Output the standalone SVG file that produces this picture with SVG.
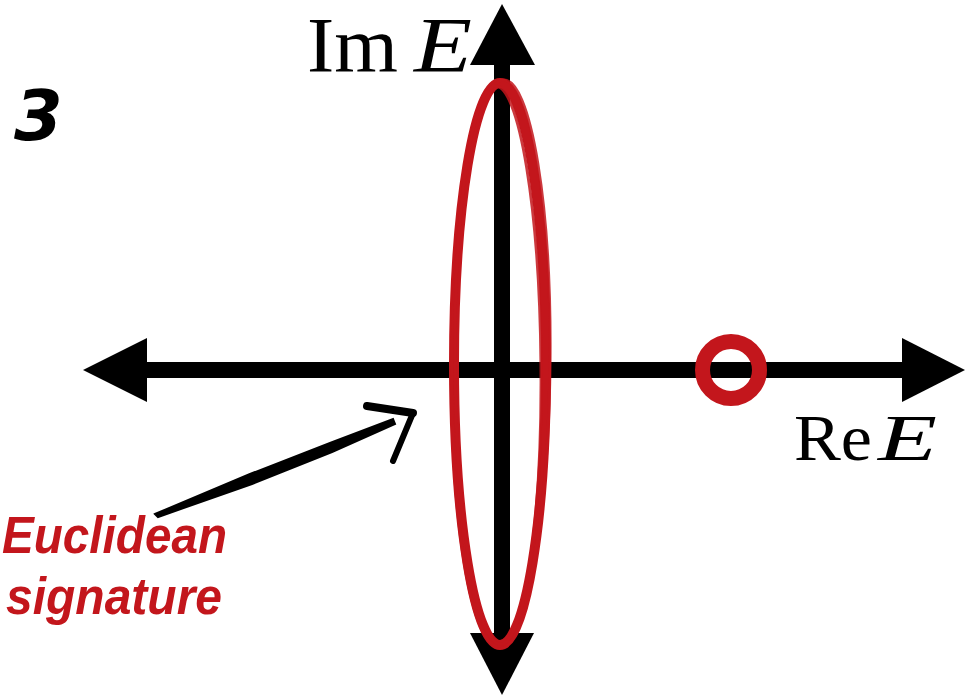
<svg xmlns="http://www.w3.org/2000/svg" width="969" height="697" viewBox="0 0 969 697">
<style>
.axis{stroke:#000;stroke-width:16;fill:none}
.head{fill:#000}
.lab{font-family:"Liberation Serif",serif;fill:#000}
.red{fill:none;stroke:#C3161C}
.note{font-family:"Liberation Sans",sans-serif;font-weight:bold;font-style:italic;fill:#C3161C}
</style>
<rect width="969" height="697" fill="#fff"/>
<g id="connectors">
  <g id="re-axis">
    <line class="axis" x1="140" y1="370" x2="910" y2="370"/>
    <polygon class="head" points="83,370 147,338 147,402"/>
    <polygon class="head" points="965,370 902,338 902,402"/>
  </g>
  <g id="im-axis">
    <line class="axis" x1="502" y1="60" x2="502" y2="640"/>
    <polygon class="head" points="502,4 470,65 535,65"/>
    <polygon class="head" points="502,695 470,633 534,633"/>
  </g>
  <g id="pointer" fill="#000" stroke="#000" stroke-linecap="round">
    <polygon points="155,514 250,474 330,443 393,419 395,424 332,452 252,484 158,517" stroke-width="2"/>
    <path d="M367,406 L413,413" fill="none" stroke-width="8"/>
    <path d="M413,413 L393,461" fill="none" stroke-width="6"/>
  </g>
</g>
<g id="contour">
  <ellipse class="red" cx="500" cy="364" rx="46" ry="281" stroke-width="10"/>
  <ellipse class="red" cx="501" cy="363" rx="49" ry="283" stroke-width="3" transform="rotate(0.6 500 364)" opacity="0.85"/>
  <ellipse class="red" cx="498" cy="365" rx="43" ry="279" stroke-width="3" transform="rotate(-0.5 500 364)" opacity="0.85"/>
</g>
<g id="pole">
  <circle class="red" cx="731" cy="370" r="28.5" stroke-width="15"/>
</g>
<g id="label-im">
  <text class="lab" x="307" y="71" font-size="78" textLength="91" lengthAdjust="spacingAndGlyphs">Im</text>
  <text class="lab" x="414" y="71" font-size="78" font-style="italic" textLength="58" lengthAdjust="spacingAndGlyphs">E</text>
</g>
<g id="label-re">
  <text class="lab" x="794" y="460" font-size="65" textLength="78" lengthAdjust="spacingAndGlyphs">Re</text>
  <text class="lab" x="878" y="460" font-size="65" font-style="italic" textLength="59" lengthAdjust="spacingAndGlyphs">E</text>
</g>
<g id="panel-number">
  <text x="14" y="140" font-family="DejaVu Sans,sans-serif" font-weight="bold" font-style="italic" font-size="70" fill="#000">3</text>
</g>
<g id="euclidean-label">
  <text class="note" x="2" y="553" font-size="52" textLength="225" lengthAdjust="spacingAndGlyphs">Euclidean</text>
  <text class="note" x="6" y="614" font-size="52" textLength="216" lengthAdjust="spacingAndGlyphs">signature</text>
</g>
</svg>
